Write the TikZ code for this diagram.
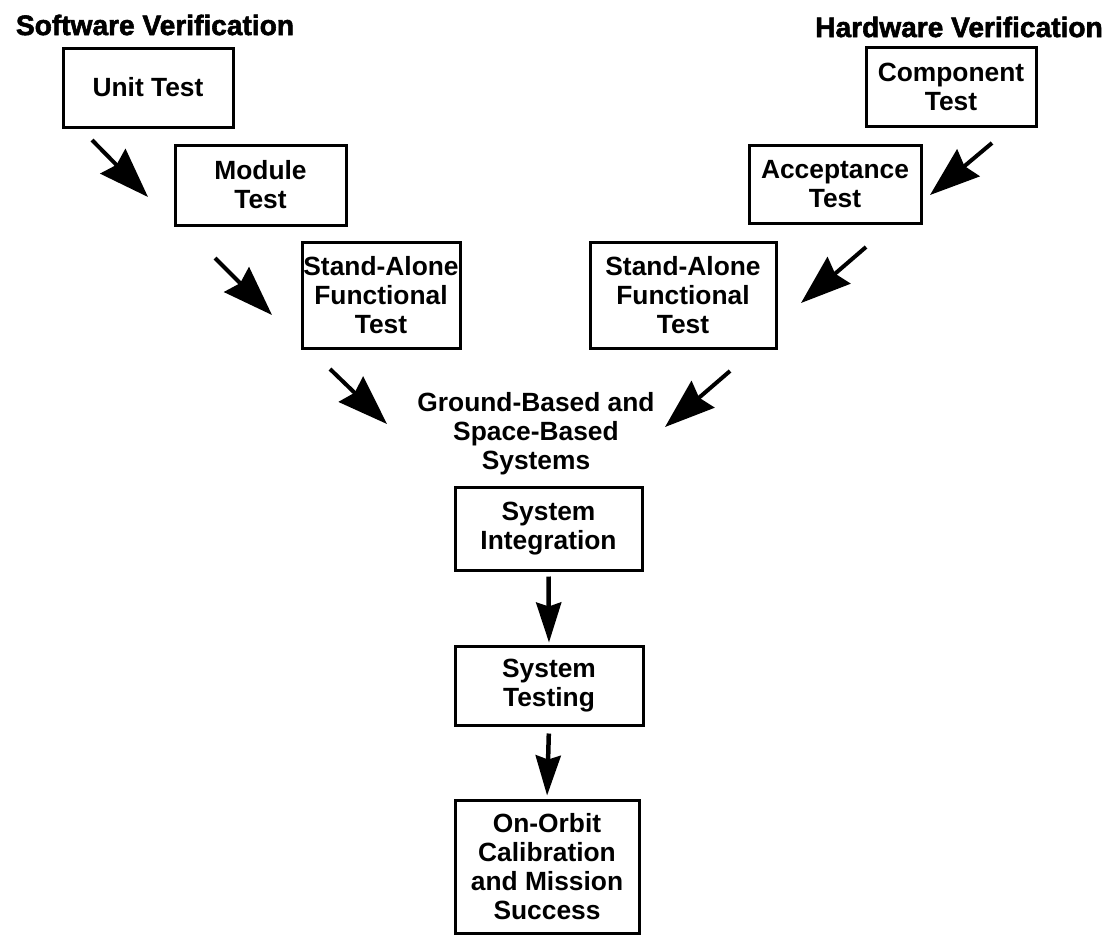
\documentclass[tikz,border=0pt]{standalone}
\usepackage{fontspec}
\setmainfont{Liberation Sans}
\newfontfamily\heavyfont[BoldFeatures={FakeBold=2}]{Liberation Sans}
\usetikzlibrary{arrows.meta}

\begin{document}
\begin{tikzpicture}[x=0.02cm,y=-0.02cm,
    box/.style={draw,line width=0.06cm,inner sep=0pt,align=center,font=\fontsize{15}{16.5}\selectfont\bfseries},
    size/.style 2 args={minimum width=#1*0.02cm,minimum height=#2*0.02cm},
    heading/.style={inner sep=0pt,font=\heavyfont\fontsize{16}{18}\selectfont\bfseries},
    plain/.style={inner sep=0pt,align=center,font=\fontsize{15}{16.5}\selectfont\bfseries},
    bigarrow/.style={line width=0.08cm,-{Stealth[length=1cm,width=0.7cm,inset=0.1cm]}},
    downarrow/.style={line width=0.09cm,-{Stealth[length=0.8cm,width=0.5cm,inset=0.08cm]}}]
            \useasboundingbox (0,0) rectangle (1115,934);
            \node[heading] (sw) at (155,25) {Software Verification};
            \node[heading] (hw) at (959,27) {Hardware Verification};
            \node[box,size={170}{79}] (unit) at (148,87.5) {Unit Test};
            \node[box,size={171}{80}] (module) at (260.5,185) {Module\\Test};
            \node[box,size={158}{106}] (swsa) at (381,295) {Stand-Alone\\Functional\\Test};
            \node[box,size={170}{79}] (comp) at (951,86.5) {Component\\Test};
            \node[box,size={172}{78}] (accept) at (835,184) {Acceptance\\Test};
            \node[box,size={186}{106}] (hwsa) at (683,295) {Stand-Alone\\Functional\\Test};
            \node[plain] (ground) at (536,434) {Ground-Based and\\Space-Based\\Systems};
            \node[box,size={187}{83}] (sysint) at (548.5,528.5) {System\\Integration};
            \node[box,size={188}{79}] (systest) at (549,685.5) {System\\Testing};
            \node[box,size={184}{133}] (orbit) at (547,866.5) {On-Orbit\\Calibration\\and Mission\\Success};
            \coordinate (l1) at (92,140);
            \coordinate (l1e) at (148,197);
            \coordinate (l2) at (215,258);
            \coordinate (l2e) at (272,315);
            \coordinate (l3) at (330,369);
            \coordinate (l3e) at (387,424);
            \coordinate (r1) at (992,143);
            \coordinate (r1e) at (930,195);
            \coordinate (r2) at (866,247);
            \coordinate (r2e) at (801,303);
            \coordinate (r3) at (730,371);
            \coordinate (r3e) at (665,427);
            \draw[bigarrow] (l1) -- (l1e);
            \draw[bigarrow] (l2) -- (l2e);
            \draw[bigarrow] (l3) -- (l3e);
            \draw[bigarrow] (r1) -- (r1e);
            \draw[bigarrow] (r2) -- (r2e);
            \draw[bigarrow] (r3) -- (r3e);
            \draw[downarrow,shorten <=0.1cm,shorten >=0.04cm] (sysint.south) -- (systest.north);
            \draw[downarrow,shorten <=0.14cm,shorten >=0.06cm] (systest.south) -- (orbit.north);
        \end{tikzpicture}
\end{document}
